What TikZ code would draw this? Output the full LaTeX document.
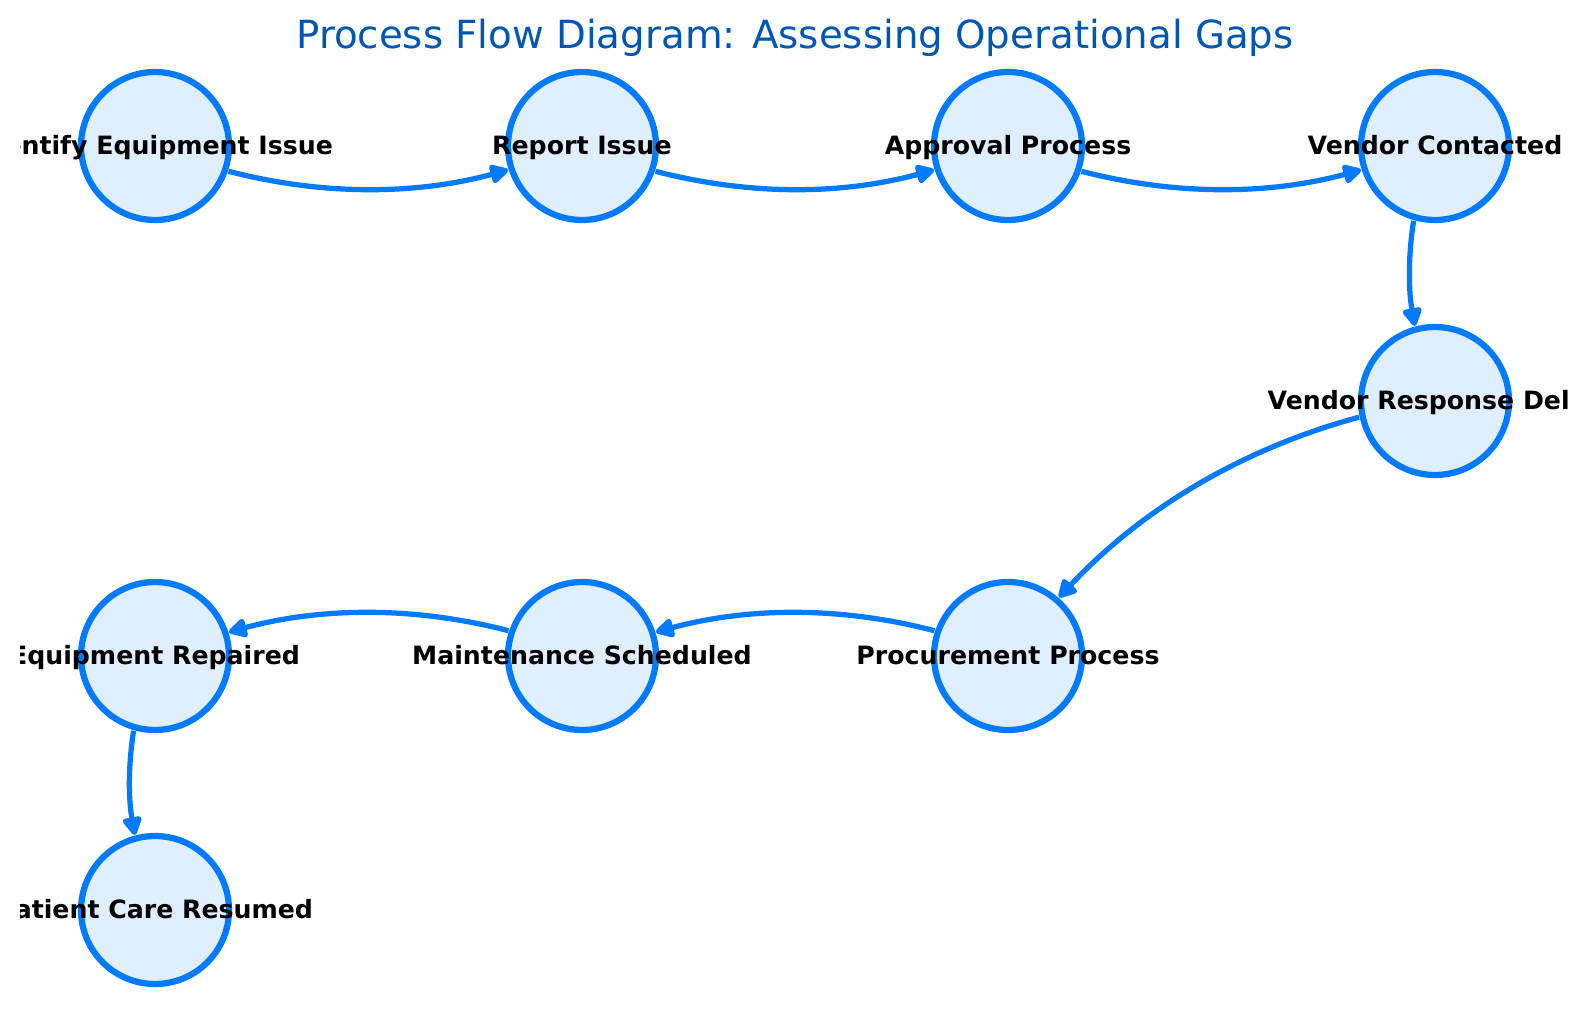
\documentclass[tikz,border=0pt]{standalone}
\usepackage{fontspec}
\setmainfont{DejaVu Sans}
\usetikzlibrary{arrows.meta}
\definecolor{edgeblue}{HTML}{007BFF}
\definecolor{nodefill}{HTML}{E0EFFF}
\definecolor{titleblue}{HTML}{0056B3}
\begin{document}
\begin{tikzpicture}[x=0.02cm,y=-0.02cm,
  proc/.style={circle, draw=edgeblue, fill=nodefill, line width=0.125cm, minimum size=2.96cm, inner sep=0pt, outer sep=0.075cm},
  lbl/.style={anchor=base, font=\fontsize{14.35}{17}\selectfont\bfseries, text=black, inner sep=0pt},
  ttl/.style={anchor=base, font=\fontsize{22.05}{26}\selectfont, text=titleblue, inner sep=0pt},
  flow/.style={draw=edgeblue, line width=0.105cm, -{Triangle[length=0.42cm,width=0.42cm,round]}}]
\useasboundingbox (0,0) rectangle (1589,1010);
% nodes
\node[proc] (n1) at (155,146) {};
\node[proc] (n2) at (582,146) {};
\node[proc] (n3) at (1008,146) {};
\node[proc] (n4) at (1435,146) {};
\node[proc] (n5) at (1435,401) {};
\node[proc] (n6) at (1008,656) {};
\node[proc] (n7) at (582,656) {};
\node[proc] (n8) at (155,656) {};
\node[proc] (n9) at (155,910) {};
% connectors
\draw[flow] (n1.341.66) to[bend right=14.75, distance=1.938cm] (n2.198.34);
\draw[flow] (n2.341.66) to[bend right=14.75, distance=1.938cm] (n3.198.34);
\draw[flow] (n3.341.66) to[bend right=14.75, distance=1.938cm] (n4.198.34);
\draw[flow] (n4.254.15) to[bend right=9.54, distance=0.724cm] (n5.105.85);
\draw[flow] (n5.192.0) to[bend right=15.79, distance=2.436cm] (n6.49.7);
\draw[flow] (n6.161.66) to[bend right=14.75, distance=1.938cm] (n7.18.34);
\draw[flow] (n7.161.66) to[bend right=14.75, distance=1.938cm] (n8.18.34);
\draw[flow] (n8.254.15) to[bend right=9.54, distance=0.724cm] (n9.105.85);
% labels
\begin{scope}
\clip (20,0) rectangle (1567,1010);
\node[lbl] (l1) at (155,154.5) {Identify Equipment Issue};
\node[lbl] (l2) at (582,154.5) {Report Issue};
\node[lbl] (l3) at (1008,154.5) {Approval Process};
\node[lbl] (l4) at (1435,154.5) {Vendor Contacted};
\node[lbl] (l5) at (1435,409.5) {Vendor Response Delay};
\node[lbl] (l6) at (1008,664.5) {Procurement Process};
\node[lbl] (l7) at (582,664.5) {Maintenance Scheduled};
\node[lbl] (l8) at (155,664.5) {Equipment Repaired};
\node[lbl] (l9) at (155,918.5) {Patient Care Resumed};
\end{scope}
\node[ttl] (title) at (795,49) {Process Flow Diagram: Assessing Operational Gaps};
\end{tikzpicture}
\end{document}
